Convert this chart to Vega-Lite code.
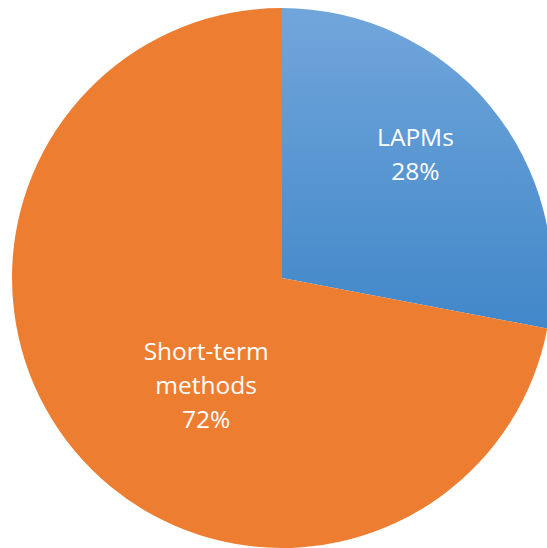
{
  "$schema": "https://vega.github.io/schema/vega-lite/v6.json",
  "width": 530,
  "height": 540,
  "autosize": {"type": "none"},
  "padding": {"left": 17, "top": 8, "right": 0, "bottom": 0},
  "background": "white",
  "config": {"view": {"stroke": null}},
  "data": {
    "values": [
      {"method": "LAPMs", "pct": 28, "label": "LAPMs\n28%"},
      {"method": "Short-term methods", "pct": 72, "label": "Short-term\nmethods\n72%"}
    ]
  },
  "encoding": {
    "theta": {"field": "pct", "type": "quantitative", "stack": true}
  },
  "layer": [
    {
      "mark": {"type": "arc", "outerRadius": 270},
      "encoding": {
        "color": {
          "condition": {
            "test": "datum.method === 'LAPMs'",
            "value": {
              "gradient": "linear", "x1": 0, "y1": 0, "x2": 0, "y2": 1,
              "stops": [
                {"offset": 0, "color": "#71A6DB"},
                {"offset": 1, "color": "#4187C9"}
              ]
            }
          },
          "value": "#ED7D31"
        }
      }
    },
    {
      "mark": {"type": "text", "radius": 181, "dx": -6, "dy": -24, "fontSize": 24.5, "font": "Open Sans", "color": "white", "lineBreak": "\n", "lineHeight": 34, "align": "center", "baseline": "middle"},
      "encoding": {
        "text": {"condition": {"test": "datum.method === 'LAPMs'", "field": "label"}, "value": ""}
      }
    },
    {
      "mark": {"type": "text", "radius": 127, "dx": 22, "dy": -6, "fontSize": 24.5, "font": "Open Sans", "color": "white", "lineBreak": "\n", "lineHeight": 34, "align": "center", "baseline": "middle"},
      "encoding": {
        "text": {"condition": {"test": "datum.method !== 'LAPMs'", "field": "label"}, "value": ""}
      }
    }
  ]
}
